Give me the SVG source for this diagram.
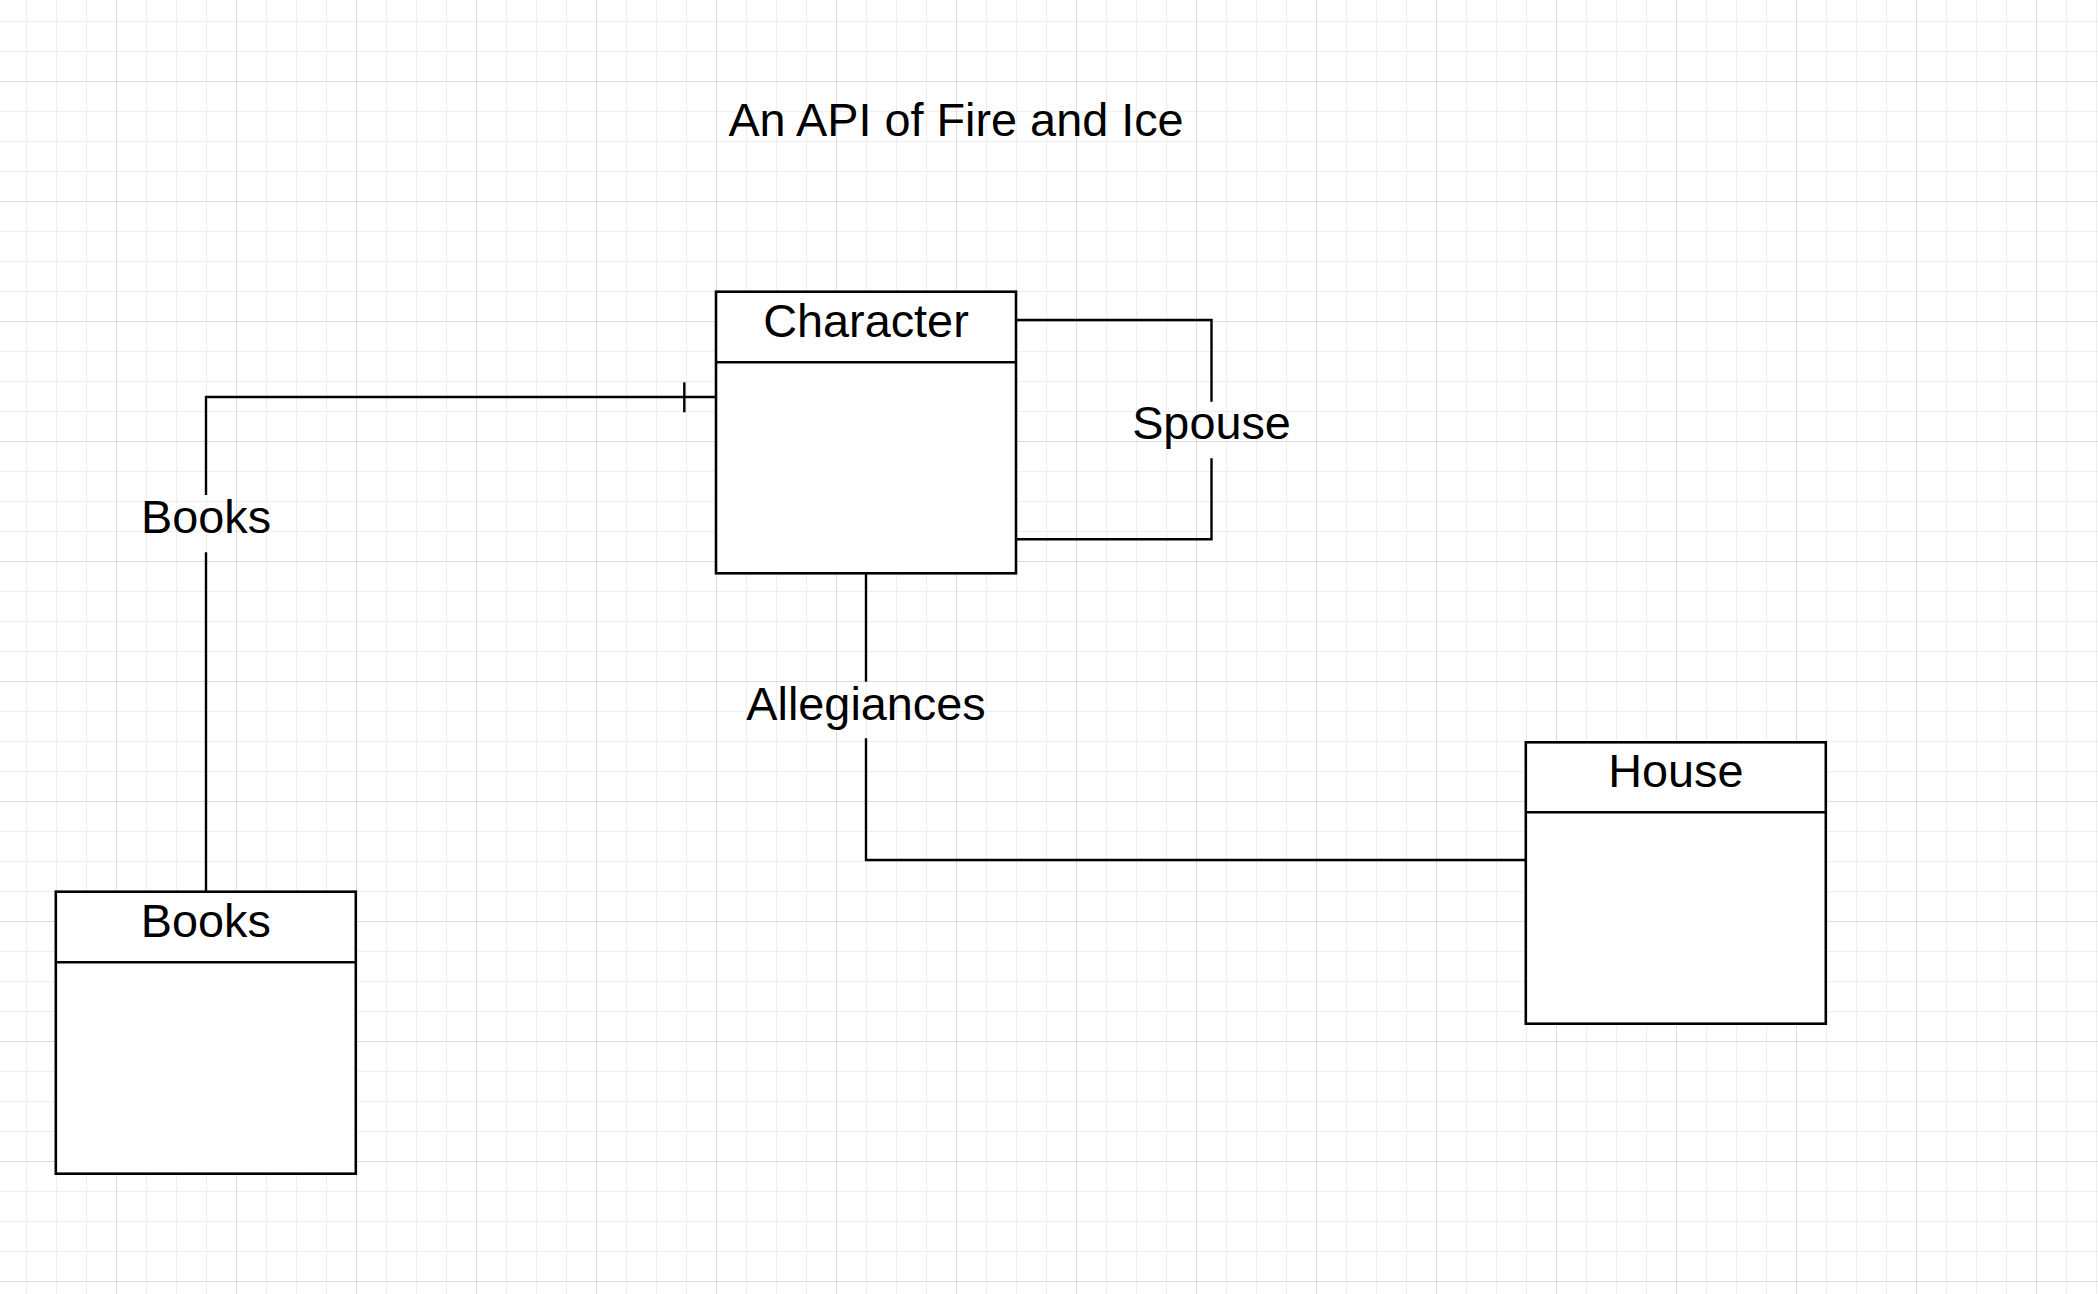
<svg xmlns="http://www.w3.org/2000/svg" width="2098" height="1294" viewBox="0 0 2098 1294">
  <style>
    .box { fill: #ffffff; stroke: #000000; stroke-width: 2.6; }
    .div { stroke: #000000; stroke-width: 2.6; fill: none; }
    .conn { stroke: #000000; stroke-width: 2.4; fill: none; }
    .title { font-family: "Liberation Sans", Arial, sans-serif; font-size: 46.8px; fill: #000000; text-anchor: middle; }
    .lbl { font-family: "Liberation Sans", Arial, sans-serif; font-size: 46.8px; fill: #000000; text-anchor: middle; }
  </style>
  <defs>
    <pattern id="grid" patternUnits="userSpaceOnUse" x="26" y="21" width="120" height="120">
      <rect x="0" y="0" width="1" height="120" fill="#eeeeee"/>
      <rect x="30" y="0" width="1" height="120" fill="#eeeeee"/>
      <rect x="60" y="0" width="1" height="120" fill="#eeeeee"/>
      <rect x="0" y="0" width="120" height="1" fill="#eeeeee"/>
      <rect x="0" y="30" width="120" height="1" fill="#eeeeee"/>
      <rect x="0" y="90" width="120" height="1" fill="#eeeeee"/>
      <rect x="90" y="0" width="1" height="120" fill="#dddddd"/>
      <rect x="0" y="60" width="120" height="1" fill="#dddddd"/>
    </pattern>
  </defs>
  <rect x="0" y="0" width="2098" height="1294" fill="#ffffff"/>
  <rect x="0" y="0" width="2098" height="1294" fill="url(#grid)"/>

  <g id="title">
    <text class="title" x="956" y="136">An API of Fire and Ice</text>
  </g>

  <g id="connectors">
    <g id="conn-books">
      <path class="conn" d="M206,891.7 V552.3"/>
      <path class="conn" d="M206,495 V397 H716"/>
      <path class="conn" d="M684.3,382.3 V412.3"/>
      <text class="lbl" x="206" y="533.3">Books</text>
    </g>
    <g id="conn-spouse">
      <path class="conn" d="M1016,320 H1211.5 V401.7"/>
      <path class="conn" d="M1211.5,458.3 V539.3 H1016"/>
      <text class="lbl" x="1211.5" y="438.5">Spouse</text>
    </g>
    <g id="conn-allegiances">
      <path class="conn" d="M866,573.3 V681.7"/>
      <path class="conn" d="M866,738.3 V860 H1525.8"/>
      <text class="lbl" x="866" y="720">Allegiances</text>
    </g>
  </g>

  <g id="node-character">
    <rect class="box" x="716" y="291.7" width="300" height="281.6"/>
    <path class="div" d="M716,362.3 H1016"/>
    <text class="lbl" x="866" y="336.7">Character</text>
  </g>

  <g id="node-house">
    <rect class="box" x="1525.8" y="742.3" width="300" height="281.4"/>
    <path class="div" d="M1525.8,812.3 H1825.8"/>
    <text class="lbl" x="1675.8" y="786.7">House</text>
  </g>

  <g id="node-books">
    <rect class="box" x="55.8" y="891.7" width="300" height="282"/>
    <path class="div" d="M55.8,962.3 H355.8"/>
    <text class="lbl" x="205.8" y="937.3">Books</text>
  </g>
</svg>
